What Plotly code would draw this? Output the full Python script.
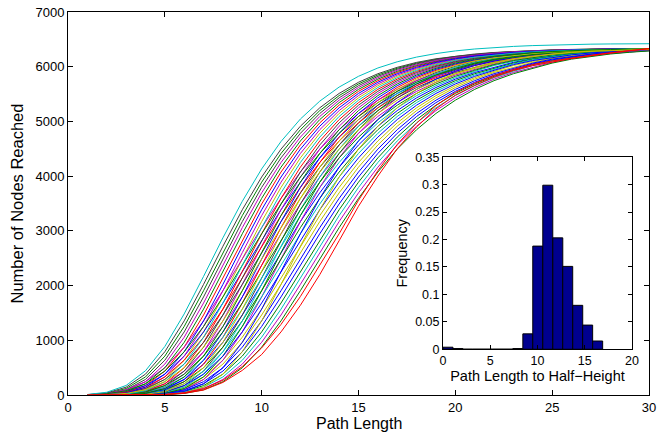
import plotly.graph_objects as go

# ---------------- data ----------------
path_length = list(range(1, 31))

# nodes reached vs path length, one list per traced run
s83 = [9, 50, 174, 443, 887, 1482, 2168, 2873, 3540, 4132, 4634, 5044, 5371, 5628, 5825, 5977, 6090, 6176, 6240, 6289, 6324, 6352, 6371, 6386, 6397, 6405, 6412, 6416, 6419, 6420]
s84 = [6, 38, 143, 381, 791, 1355, 2022, 2719, 3386, 3984, 4494, 4913, 5249, 5512, 5716, 5872, 5989, 6079, 6145, 6195, 6232, 6260, 6280, 6296, 6307, 6316, 6322, 6326, 6330, 6332]
s85 = [4, 29, 118, 330, 711, 1253, 1907, 2603, 3279, 3890, 4415, 4849, 5198, 5472, 5685, 5848, 5971, 6066, 6135, 6188, 6227, 6256, 6277, 6294, 6306, 6314, 6321, 6326, 6329, 6332]
s90 = [3, 22, 96, 284, 635, 1153, 1793, 2487, 3170, 3794, 4334, 4783, 5146, 5431, 5653, 5824, 5953, 6052, 6125, 6180, 6221, 6252, 6274, 6291, 6304, 6313, 6320, 6325, 6329, 6332]
s91 = [2, 17, 78, 243, 565, 1056, 1681, 2371, 3059, 3695, 4250, 4714, 5091, 5388, 5620, 5799, 5934, 6037, 6114, 6172, 6215, 6247, 6271, 6289, 6302, 6311, 6319, 6324, 6328, 6331]
s92 = [1, 12, 62, 205, 498, 963, 1570, 2255, 2947, 3594, 4164, 4643, 5034, 5344, 5586, 5773, 5915, 6022, 6103, 6163, 6209, 6242, 6267, 6286, 6300, 6310, 6318, 6323, 6328, 6331]
s93 = [1, 9, 49, 172, 437, 875, 1462, 2138, 2833, 3491, 4075, 4570, 4974, 5297, 5550, 5745, 5894, 6006, 6091, 6154, 6202, 6237, 6264, 6283, 6298, 6309, 6317, 6323, 6327, 6330]
s94 = [1, 6, 38, 143, 381, 791, 1355, 2022, 2719, 3386, 3984, 4494, 4913, 5249, 5512, 5716, 5872, 5989, 6079, 6145, 6195, 6232, 6260, 6280, 6296, 6307, 6316, 6322, 6326, 6330]
s95 = [0, 4, 29, 118, 330, 711, 1253, 1907, 2603, 3279, 3890, 4415, 4849, 5198, 5472, 5685, 5848, 5971, 6066, 6135, 6188, 6227, 6256, 6277, 6294, 6306, 6314, 6321, 6326, 6329]
s100 = [0, 3, 22, 96, 284, 635, 1153, 1793, 2487, 3170, 3794, 4334, 4783, 5146, 5431, 5653, 5824, 5953, 6052, 6125, 6180, 6221, 6252, 6274, 6291, 6304, 6313, 6320, 6325, 6329]
s101 = [0, 2, 17, 78, 243, 565, 1056, 1681, 2371, 3059, 3695, 4250, 4714, 5091, 5388, 5620, 5799, 5934, 6037, 6114, 6172, 6215, 6247, 6271, 6289, 6302, 6311, 6319, 6324, 6328]
s102 = [0, 1, 12, 62, 205, 498, 963, 1570, 2255, 2947, 3594, 4164, 4643, 5034, 5344, 5586, 5773, 5915, 6022, 6103, 6163, 6209, 6242, 6267, 6286, 6300, 6310, 6318, 6323, 6328]
s103 = [0, 1, 9, 49, 172, 437, 875, 1462, 2138, 2833, 3491, 4075, 4570, 4974, 5297, 5550, 5745, 5894, 6006, 6091, 6154, 6202, 6237, 6264, 6283, 6298, 6309, 6317, 6323, 6327]
s104 = [0, 1, 6, 38, 143, 381, 791, 1355, 2022, 2719, 3386, 3984, 4494, 4913, 5249, 5512, 5716, 5872, 5989, 6079, 6145, 6195, 6232, 6260, 6280, 6296, 6307, 6316, 6322, 6326]
s105 = [0, 0, 4, 29, 118, 330, 711, 1253, 1907, 2603, 3279, 3890, 4415, 4849, 5198, 5472, 5685, 5848, 5971, 6066, 6135, 6188, 6227, 6256, 6277, 6294, 6306, 6314, 6321, 6326]
s110 = [0, 0, 3, 22, 96, 284, 635, 1153, 1793, 2487, 3170, 3794, 4334, 4783, 5146, 5431, 5653, 5824, 5953, 6052, 6125, 6180, 6221, 6252, 6274, 6291, 6304, 6313, 6320, 6325]
s111 = [0, 0, 2, 17, 78, 243, 565, 1056, 1681, 2371, 3059, 3695, 4250, 4714, 5091, 5388, 5620, 5799, 5934, 6037, 6114, 6172, 6215, 6247, 6271, 6289, 6302, 6311, 6319, 6324]
s112 = [0, 0, 1, 12, 62, 205, 498, 963, 1570, 2255, 2947, 3594, 4164, 4643, 5034, 5344, 5586, 5773, 5915, 6022, 6103, 6163, 6209, 6242, 6267, 6286, 6300, 6310, 6318, 6323]
s113 = [0, 0, 1, 9, 49, 172, 437, 875, 1462, 2138, 2833, 3491, 4075, 4570, 4974, 5297, 5550, 5745, 5894, 6006, 6091, 6154, 6202, 6237, 6264, 6283, 6298, 6309, 6317, 6323]
s114 = [0, 0, 1, 6, 38, 143, 381, 791, 1355, 2022, 2719, 3386, 3984, 4494, 4913, 5249, 5512, 5716, 5872, 5989, 6079, 6145, 6195, 6232, 6260, 6280, 6296, 6307, 6316, 6322]
s115 = [0, 0, 0, 4, 29, 118, 330, 711, 1253, 1907, 2603, 3279, 3890, 4415, 4849, 5198, 5472, 5685, 5848, 5971, 6066, 6135, 6188, 6227, 6256, 6277, 6294, 6306, 6314, 6321]
s120 = [0, 0, 0, 3, 22, 96, 284, 635, 1153, 1793, 2487, 3170, 3794, 4334, 4783, 5146, 5431, 5653, 5824, 5953, 6052, 6125, 6180, 6221, 6252, 6274, 6291, 6304, 6313, 6320]
s122 = [0, 0, 0, 1, 12, 62, 205, 498, 963, 1570, 2255, 2947, 3594, 4164, 4643, 5034, 5344, 5586, 5773, 5915, 6022, 6103, 6163, 6209, 6242, 6267, 6286, 6300, 6310, 6318]
s124 = [0, 0, 0, 1, 6, 38, 143, 381, 791, 1355, 2022, 2719, 3386, 3984, 4494, 4913, 5249, 5512, 5716, 5872, 5989, 6079, 6145, 6195, 6232, 6260, 6280, 6296, 6307, 6316]

t101 = [6, 29, 96, 243, 498, 875, 1355, 1907, 2487, 3059, 3594, 4075, 4494, 4849, 5146, 5388, 5586, 5745, 5872, 5971, 6066, 6138, 6190, 6232, 6264, 6288, 6306, 6318, 6326, 6332]
t102 = [4, 22, 78, 205, 437, 791, 1253, 1793, 2371, 2947, 3491, 3984, 4415, 4783, 5091, 5344, 5550, 5716, 5848, 5953, 6052, 6126, 6180, 6224, 6258, 6283, 6302, 6316, 6325, 6331]
t103 = [3, 17, 62, 172, 381, 711, 1153, 1681, 2255, 2833, 3386, 3890, 4334, 4714, 5034, 5297, 5512, 5685, 5824, 5934, 6038, 6113, 6170, 6216, 6252, 6278, 6298, 6313, 6323, 6330]
t104 = [2, 12, 49, 143, 330, 635, 1056, 1570, 2138, 2719, 3279, 3794, 4250, 4643, 4974, 5249, 5472, 5653, 5799, 5915, 6022, 6100, 6160, 6207, 6245, 6273, 6294, 6310, 6321, 6329]
t110 = [1, 9, 38, 118, 284, 565, 963, 1462, 2022, 2603, 3170, 3695, 4164, 4570, 4913, 5198, 5431, 5620, 5773, 5894, 5989, 6080, 6150, 6200, 6240, 6270, 6293, 6310, 6320, 6328]
t111 = [1, 6, 29, 96, 243, 498, 875, 1355, 1907, 2487, 3059, 3594, 4075, 4494, 4849, 5146, 5388, 5586, 5745, 5872, 5971, 6066, 6138, 6190, 6232, 6264, 6288, 6306, 6318, 6326]
t112 = [1, 4, 22, 78, 205, 437, 791, 1253, 1793, 2371, 2947, 3491, 3984, 4415, 4783, 5091, 5344, 5550, 5716, 5848, 5953, 6052, 6126, 6180, 6224, 6258, 6283, 6302, 6316, 6325]
t113 = [0, 3, 17, 62, 172, 381, 711, 1153, 1681, 2255, 2833, 3386, 3890, 4334, 4714, 5034, 5297, 5512, 5685, 5824, 5934, 6038, 6113, 6170, 6216, 6252, 6278, 6298, 6313, 6323]
t114 = [0, 2, 12, 49, 143, 330, 635, 1056, 1570, 2138, 2719, 3279, 3794, 4250, 4643, 4974, 5249, 5472, 5653, 5799, 5915, 6022, 6100, 6160, 6207, 6245, 6273, 6294, 6310, 6321]
t120 = [0, 1, 9, 38, 118, 284, 565, 963, 1462, 2022, 2603, 3170, 3695, 4164, 4570, 4913, 5198, 5431, 5620, 5773, 5894, 5989, 6080, 6150, 6200, 6240, 6270, 6293, 6310, 6320]
t121 = [0, 1, 6, 29, 96, 243, 498, 875, 1355, 1907, 2487, 3059, 3594, 4075, 4494, 4849, 5146, 5388, 5586, 5745, 5872, 5971, 6066, 6138, 6190, 6232, 6264, 6288, 6306, 6318]
t122 = [0, 1, 4, 22, 78, 205, 437, 791, 1253, 1793, 2371, 2947, 3491, 3984, 4415, 4783, 5091, 5344, 5550, 5716, 5848, 5953, 6052, 6126, 6180, 6224, 6258, 6283, 6302, 6316]
t123 = [0, 0, 3, 17, 62, 172, 381, 711, 1153, 1681, 2255, 2833, 3386, 3890, 4334, 4714, 5034, 5297, 5512, 5685, 5824, 5934, 6038, 6113, 6170, 6216, 6252, 6278, 6298, 6313]
t124 = [0, 0, 2, 12, 49, 143, 330, 635, 1056, 1570, 2138, 2719, 3279, 3794, 4250, 4643, 4974, 5249, 5472, 5653, 5799, 5915, 6022, 6100, 6160, 6207, 6245, 6273, 6294, 6310]
t130 = [0, 0, 1, 9, 38, 118, 284, 565, 963, 1462, 2022, 2603, 3170, 3695, 4164, 4570, 4913, 5198, 5431, 5620, 5773, 5894, 5989, 6080, 6150, 6200, 6240, 6270, 6293, 6310]
t131 = [0, 0, 1, 6, 29, 96, 243, 498, 875, 1355, 1907, 2487, 3059, 3594, 4075, 4494, 4849, 5146, 5388, 5586, 5745, 5872, 5971, 6066, 6138, 6190, 6232, 6264, 6288, 6306]
t132 = [0, 0, 1, 4, 22, 78, 205, 437, 791, 1253, 1793, 2371, 2947, 3491, 3984, 4415, 4783, 5091, 5344, 5550, 5716, 5848, 5953, 6052, 6126, 6180, 6224, 6258, 6283, 6302]
t133 = [0, 0, 0, 3, 17, 62, 172, 381, 711, 1153, 1681, 2255, 2833, 3386, 3890, 4334, 4714, 5034, 5297, 5512, 5685, 5824, 5934, 6038, 6113, 6170, 6216, 6252, 6278, 6298]
t134 = [0, 0, 0, 2, 12, 49, 143, 330, 635, 1056, 1570, 2138, 2719, 3279, 3794, 4250, 4643, 4974, 5249, 5472, 5653, 5799, 5915, 6022, 6100, 6160, 6207, 6245, 6273, 6294]
t140 = [0, 0, 0, 1, 9, 38, 118, 284, 565, 963, 1462, 2022, 2603, 3170, 3695, 4164, 4570, 4913, 5198, 5431, 5620, 5773, 5894, 5989, 6080, 6150, 6200, 6240, 6270, 6293]
t141 = [0, 0, 0, 1, 6, 29, 96, 243, 498, 875, 1355, 1907, 2487, 3059, 3594, 4075, 4494, 4849, 5146, 5388, 5586, 5745, 5872, 5971, 6066, 6138, 6190, 6232, 6264, 6288]
t142 = [0, 0, 0, 2, 10, 40, 115, 270, 520, 860, 1290, 1800, 2371, 2947, 3560, 4100, 4580, 4970, 5290, 5530, 5700, 5840, 5950, 6040, 6105, 6160, 6210, 6255, 6298, 6330]
t143 = [0, 0, 0, 2, 8, 30, 90, 230, 450, 740, 1153, 1640, 2200, 2820, 3450, 4000, 4500, 4900, 5230, 5480, 5660, 5810, 5930, 6020, 6090, 6150, 6200, 6250, 6295, 6330]

# drawing order and MATLAB colour code of each run
run_order = [
    (s100, "y"), (t112, "m"), (s93, "r"), (t120, "b"), (s85, "g"), (t103, "b"),
    (s111, "r"), (t124, "y"), (s90, "k"), (s104, "m"), (t130, "y"), (s113, "k"),
    (t101, "m"), (s92, "g"), (t114, "c"), (s120, "m"), (s95, "m"), (t121, "g"),
    (s102, "r"), (t110, "k"), (s114, "c"), (t133, "g"), (s84, "k"), (t104, "r"),
    (s110, "b"), (t122, "c"), (s91, "m"), (t131, "b"), (s103, "k"), (t113, "g"),
    (s122, "b"), (s94, "b"), (t102, "g"), (s115, "g"), (t123, "b"), (s101, "c"),
    (t111, "y"), (s112, "y"), (t132, "b"), (s105, "g"), (t134, "c"), (s124, "y"),
    (t140, "m"), (t141, "g"), (s83, "c"), (t142, "r"), (t143, "r"),
]

# inset histogram: path length to half-height
hist_bin_centers = [0.53, 1.58, 2.64, 3.70, 4.75, 5.81, 6.86, 7.92,
                    8.98, 10.03, 11.09, 12.15, 13.20, 14.26, 15.31, 16.37]
hist_frequency = [0.0037, 0.0012, 0.0, 0.0, 0.0, 0.0, 0.0, 0.0012,
                  0.028, 0.188, 0.299, 0.203, 0.151, 0.080, 0.044, 0.015]

main_x_ticks = [0, 5, 10, 15, 20, 25, 30]
main_y_ticks = [0, 1000, 2000, 3000, 4000, 5000, 6000, 7000]
inset_x_ticks = [0, 5, 10, 15, 20]
inset_y_ticks = [0, 0.05, 0.1, 0.15, 0.2, 0.25, 0.3, 0.35]
inset_y_labels = ["0", "0.05", "0.1", "0.15", "0.2", "0.25", "0.3", "0.35"]

# ---------------- styling ----------------
MATLAB = {
    "b": "#0000FF", "g": "#008000", "r": "#FF0000", "c": "#00BFBF",
    "m": "#BF00BF", "y": "#BFBF00", "k": "#404040",
}
FONT = "Liberation Sans, Arial, Helvetica, sans-serif"

fig = go.Figure()
for vals, code in run_order:
    fig.add_trace(go.Scatter(
        x=path_length, y=vals, mode="lines",
        line=dict(color=MATLAB[code], width=1),
        showlegend=False, hoverinfo="skip",
    ))

fig.add_trace(go.Bar(
    x=hist_bin_centers, y=hist_frequency, width=1.056,
    marker=dict(color="#00008F", line=dict(color="black", width=1)),
    xaxis="x2", yaxis="y2", showlegend=False, hoverinfo="skip",
))

axis_common = dict(
    showline=True, linecolor="black", linewidth=1, mirror="allticks",
    ticks="inside", tickcolor="black", showgrid=False, zeroline=False,
    automargin=False,
)

fig.update_layout(
    width=670, height=432,
    margin=dict(l=68, r=21, t=12, b=37),
    paper_bgcolor="white", plot_bgcolor="white",
    font=dict(family=FONT, color="black"),
    showlegend=False,
    xaxis=dict(
        domain=[0, 1], range=[0, 30], tickvals=main_x_ticks, ticklen=5,
        tickfont=dict(size=13),
        **axis_common,
    ),
    yaxis=dict(
        domain=[0, 1], range=[0, 7000], tickvals=main_y_ticks, ticklen=5,
        tickfont=dict(size=13),
        title=dict(text="Number of Nodes Reached", font=dict(size=16.5), standoff=7),
        **axis_common,
    ),
    xaxis2=dict(
        domain=[0.6454, 0.9707], anchor="y2", range=[0, 20],
        tickvals=inset_x_ticks, ticklen=4, tickfont=dict(size=12.5),
        title=dict(text="Path Length to Half\u2212Height", font=dict(size=14.5), standoff=2),
        **axis_common,
    ),
    yaxis2=dict(
        domain=[0.1195, 0.6208], anchor="x2", range=[0, 0.35],
        tickvals=inset_y_ticks, ticktext=inset_y_labels, ticklen=4,
        tickfont=dict(size=12.5),
        title=dict(text="Frequency", font=dict(size=14.5), standoff=4),
        **axis_common,
    ),
    annotations=[
        dict(
            text="Path Length", xref="paper", yref="paper", x=0.5, y=-0.047,
            xanchor="center", yanchor="top", showarrow=False,
            font=dict(size=16, family=FONT, color="black"),
        ),
    ],
)

fig.write_html("out.html")
